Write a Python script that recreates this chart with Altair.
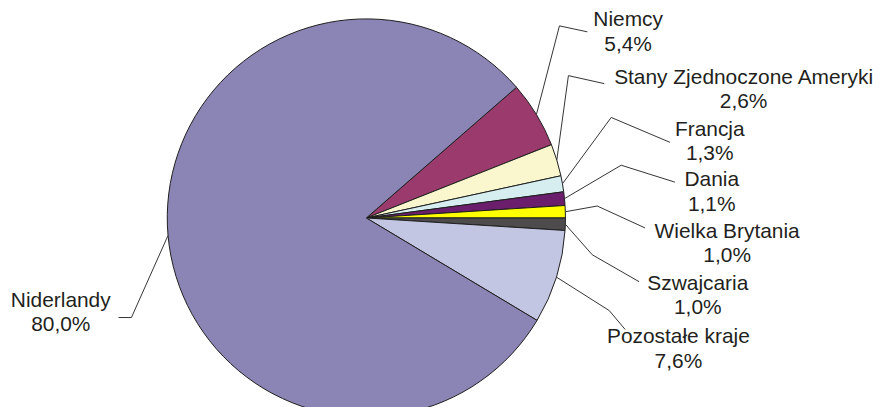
import math
import altair as alt
import pandas as pd

# ---- data ----
countries = ["Niemcy", "Stany Zjednoczone Ameryki", "Francja", "Dania",
             "Wielka Brytania", "Szwajcaria", "Pozostałe kraje", "Niderlandy"]
shares = [5.4, 2.6, 1.3, 1.1, 1.0, 1.0, 7.6, 80.0]
pct_labels = ["5,4%", "2,6%", "1,3%", "1,1%", "1,0%", "1,0%", "7,6%", "80,0%"]

# ---- styles ----
colors = ["#9B3A6C", "#FAF7CF", "#D6EEF0", "#6A1E6C",
          "#FFFF00", "#4D4B4B", "#C3C6E2", "#8B85B5"]

# ---- layout (chart pixels) ----
CX, CY, R = 360, 210, 200
label_x = [623, 739, 705, 707, 722.5, 693, 673.5, 53]
label_y = [11.5, 69.5, 121.5, 172, 224, 276, 330, 293]
elbow_x = [554, 563, 606, 616, 592, 587, 604, 124]
elbow_y = [17, 67, 109, 157, 198, 247, 303, 310]
end_x = [582, 599, 665, 670, 640, 634, 620, 111]
end_y = [23, 75, 134, 174, 220, 274, 322, 310]

# first slice starts so that the WB / Szwajcaria boundary lies at 3 o'clock
above = sum(shares[:5]) / sum(shares)
A0 = math.pi / 2 - 2 * math.pi * above

df = pd.DataFrame({
    "country": countries,
    "share": shares,
    "ord": list(range(len(countries))),
    "label": [f"{c}\n{p}" for c, p in zip(countries, pct_labels)],
    "lx": label_x, "ly": label_y,
    "ex": elbow_x, "ey": elbow_y,
    "tx": end_x, "ty": end_y,
})

base = alt.Chart(df)

pie = base.mark_arc(outerRadius=R, stroke="#1e1e1e", strokeWidth=1).encode(
    theta=alt.Theta("share:Q", stack=True,
                    scale=alt.Scale(range=[A0, A0 + 2 * math.pi])),
    order=alt.Order("ord:Q"),
    color=alt.Color("country:N", scale=alt.Scale(domain=countries, range=colors),
                    legend=None),
    x=alt.value(CX),
    y=alt.value(CY),
)

lines_base = base.transform_joinaggregate(
    total="sum(share)"
).transform_window(
    cum="sum(share)", sort=[alt.SortField("ord")]
).transform_calculate(
    mid=f"{A0} + 2*PI*(datum.cum - datum.share/2)/datum.total"
).transform_calculate(
    sx=f"{CX} + {R}*sin(datum.mid)",
    sy=f"{CY} - {R}*cos(datum.mid)",
)

lead1 = lines_base.mark_rule(color="#333333", strokeWidth=1).encode(
    x=alt.X("sx:Q", scale=None, axis=None),
    y=alt.Y("sy:Q", scale=None, axis=None),
    x2="ex:Q",
    y2="ey:Q",
)

lead2 = base.mark_rule(color="#333333", strokeWidth=1).encode(
    x=alt.X("ex:Q", scale=None, axis=None),
    y=alt.Y("ey:Q", scale=None, axis=None),
    x2="tx:Q",
    y2="ty:Q",
)

labels = base.mark_text(
    font="Liberation Sans", fontSize=21, lineBreak="\n", lineHeight=24.5,
    align="center", baseline="middle", color="#231F20",
).encode(
    x=alt.X("lx:Q", scale=None, axis=None),
    y=alt.Y("ly:Q", scale=None, axis=None),
    text="label:N",
)

chart = alt.layer(pie, lead1, lead2, labels).properties(
    width=866, height=391, padding=0
).configure_view(stroke=None)

chart.save("out.html", embed_options={"renderer": "svg", "actions": False})
